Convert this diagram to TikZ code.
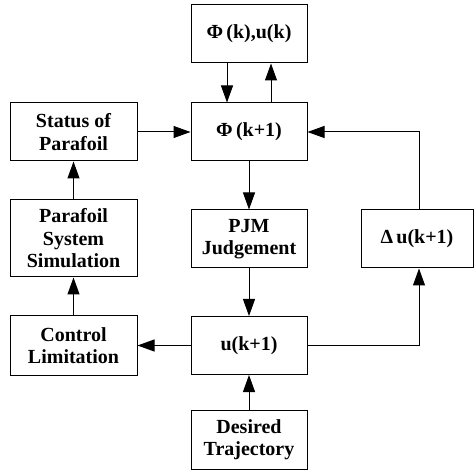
\documentclass[tikz,border=0pt]{standalone}
\usepackage{fontspec}
\setmainfont{Liberation Serif}
\usetikzlibrary{arrows.meta,positioning}

\begin{document}
\begin{tikzpicture}[x=1pt,y=-1pt]
\tikzstyle{every node}=[draw, line width=1pt, align=center, inner sep=0pt, font=\fontsize{20}{22.5}\selectfont\bfseries]
\tikzset{blk/.style={minimum width=116pt, minimum height=58pt}}
\tikzset{side/.style={minimum width=127pt, minimum height=58pt}}
\tikzstyle{every path}=[line width=1pt]
\tikzset{flow/.style={-{Triangle[length=17pt,width=12pt]}}}
\useasboundingbox (0,0) rectangle (474,470);
\node [blk] (PHIK) at (249,34) {Φ\,(k),u(k)};
\node [blk] (PHIK1) at (249,132) {Φ\,(k+1)};
\node [side] (STATUS) at (73.5,132) {Status of\\Parafoil};
\node [side, minimum height=77pt] (SIM) at (73.5,238.5) {Parafoil\\System\\Simulation};
\node [blk] (PJM) at (249,239) {PJM\\Judgement};
\node [blk, minimum width=112pt] (DU) at (417,239) {Δ\,u(k+1)};
\node [blk] (UK1) at (249,345.5) {u(k+1)};
\node [side, minimum height=59pt] (CTRL) at (73.5,345.5) {Control\\Limitation};
\node [blk, minimum height=59pt] (DES) at (249,439.5) {Desired\\Trajectory};
\draw [flow] ([xshift=-22pt]PHIK.south) -- ([xshift=-22pt]PHIK1.north);
\draw [flow] ([xshift=22pt]PHIK1.north) -- ([xshift=22pt]PHIK.south);
\draw [flow] (STATUS) -- (PHIK1);
\draw [flow] (PHIK1) -- (PJM);
\draw [flow] ([xshift=2pt]DU.north) |- (PHIK1.east);
\draw [flow] (SIM) -- (STATUS);
\draw [flow] (CTRL) -- (SIM);
\draw [flow] (PJM) -- (UK1);
\draw [flow] (DES) -- (UK1);
\draw [flow] (UK1) -- (CTRL);
\draw [flow] (UK1.east) -| ([xshift=2pt]DU.south);
\end{tikzpicture}
\end{document}
